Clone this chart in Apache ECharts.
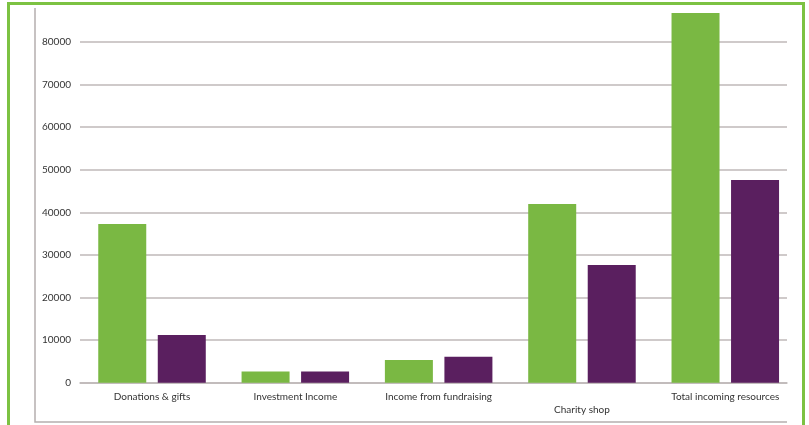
<!DOCTYPE html>
<html><head><meta charset="utf-8">
<script src="https://cdn.jsdelivr.net/npm/echarts@6/dist/echarts.min.js"></script>
<style>html,body{margin:0;padding:0;background:#fff}#c{width:809px;height:425px}</style>
</head><body><div id="c"></div>
<script>
const categories = ['Donations & gifts', 'Investment Income', 'Income from fundraising', 'Charity shop', 'Total incoming resources'];
const seriesA = [37250, 2600, 5350, 41950, 86800];
const seriesB = [11200, 2600, 6100, 27600, 47600];
const yTicks = [0, 10000, 20000, 30000, 40000, 50000, 60000, 70000, 80000];

const chart = echarts.init(document.getElementById('c'), null, {renderer: 'canvas'});
const gridColor = '#bfb8b8';
const labelFont = {color: '#333', fontFamily: 'Lato', fontSize: 10};
chart.setOption({
  animation: false,
  backgroundColor: '#ffffff',
  grid: [
    {left: 80.35, right: 12.05, top: 7.8, bottom: 42.3, containLabel: false},
    {left: 80, right: 22, top: 7.8, bottom: 42.3, containLabel: false}
  ],
  xAxis: [
    {
      type: 'category', gridIndex: 0, data: categories,
      axisLine: {show: false}, axisTick: {show: false},
      axisLabel: Object.assign({
        interval: 0, margin: 9,
        formatter: function (v, i) { return i === 3 ? '{low|' + v + '}' : v; },
        rich: {low: Object.assign({padding: [13, 0, 0, 0]}, labelFont)}
      }, labelFont)
    },
    {
      type: 'category', gridIndex: 1, data: categories,
      axisLine: {show: true, lineStyle: {color: gridColor, width: 1.5}},
      axisTick: {show: false}, axisLabel: {show: false}
    }
  ],
  yAxis: [
    {
      type: 'value', gridIndex: 0, min: 0, max: 88000, interval: 10000,
      axisLine: {show: false}, axisTick: {show: false},
      splitLine: {show: false}, axisLabel: {show: false}
    },
    {
      type: 'value', gridIndex: 1, min: 0, max: 88000, interval: 10000,
      axisLine: {show: false}, axisTick: {show: false},
      splitLine: {show: true, showMaxLine: false, lineStyle: {color: gridColor, width: 1.5}},
      axisLabel: Object.assign({
        margin: 9, showMaxLabel: false,
        formatter: function (v) { return yTicks.indexOf(v) >= 0 ? String(v) : ''; }
      }, labelFont)
    }
  ],
  series: [
    {type: 'bar', xAxisIndex: 0, yAxisIndex: 0, data: seriesA, barWidth: 48, barGap: '24%', itemStyle: {color: '#7ab843'}, z: 3},
    {type: 'bar', xAxisIndex: 0, yAxisIndex: 0, data: seriesB, barWidth: 48, barGap: '24%', itemStyle: {color: '#5a1f5f'}, z: 3}
  ],
  graphic: [
    {type: 'rect', shape: {x: 8.5, y: 3.5, width: 795, height: 440}, style: {fill: 'none', stroke: '#7cc242', lineWidth: 3}, silent: true},
    {type: 'polyline', shape: {points: [[35, 8], [35, 422], [787, 422]]}, style: {fill: 'none', stroke: '#b5afaf', lineWidth: 1.5}, silent: true}
  ]
});
</script></body></html>
